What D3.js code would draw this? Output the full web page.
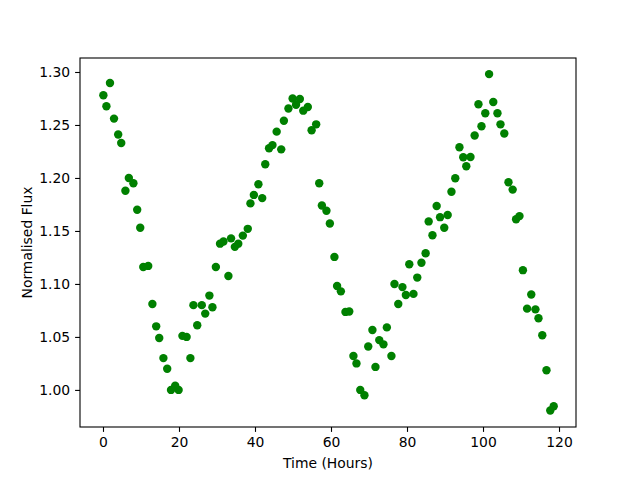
<!DOCTYPE html>
<meta charset="utf-8">
<script src="https://d3js.org/d3.v7.min.js"></script>
<style>
  body { margin: 0; background: #fff; }
  text { font-family: "DejaVu Sans", sans-serif; }
</style>
<div id="chart"></div>
<script>
var hours = [
  0.1, 0.9, 1.84, 2.9, 4.0, 4.8, 5.9, 6.8, 8.0, 9.0, 9.8, 10.6, 11.9, 13.0, 14.0, 14.8,
  15.9, 16.9, 17.9, 19.0, 19.9, 20.9, 22.0, 23.0, 23.8, 24.8, 26.0, 26.9, 28.0, 28.8,
  29.7, 30.8, 31.7, 33.0, 33.7, 34.7, 35.6, 36.8, 38.1, 38.8, 39.7, 40.9, 41.9, 42.7,
  43.7, 44.6, 45.7, 46.9, 47.6, 48.8, 49.9, 50.8, 51.8, 52.7, 53.9, 54.9, 56.1, 56.9,
  57.6, 58.8, 59.7, 60.9, 61.6, 62.6, 63.8, 64.8, 65.9, 66.7, 67.7, 68.8, 69.8, 70.9,
  71.7, 72.7, 73.8, 74.7, 75.9, 76.7, 77.7, 78.8, 79.7, 80.6, 81.7, 82.7, 83.8, 84.9,
  85.7, 86.7, 87.8, 88.7, 89.8, 90.7, 91.7, 92.7, 93.8, 94.8, 95.6, 96.7, 97.8, 98.8,
  99.6, 100.6, 101.6, 102.7, 103.8, 104.6, 105.6, 106.7, 107.8, 108.7, 109.6, 110.5,
  111.6, 112.7, 113.8, 114.6, 115.6, 116.7, 117.7, 118.6
];
var flux = [
  1.278, 1.2676, 1.2896, 1.256, 1.241, 1.233, 1.188, 1.200, 1.195, 1.170, 1.153, 1.116, 1.117, 1.081, 1.060, 1.049,
  1.030, 1.020, 1.000, 1.004, 1.000, 1.051, 1.050, 1.030, 1.080, 1.061, 1.080, 1.072, 1.089, 1.078,
  1.116, 1.138, 1.140, 1.1075, 1.143, 1.135, 1.138, 1.1456, 1.152, 1.176, 1.184, 1.194, 1.181, 1.213,
  1.228, 1.231, 1.2437, 1.227, 1.254, 1.2655, 1.275, 1.269, 1.2745, 1.2635, 1.267, 1.245, 1.2506, 1.195,
  1.174, 1.169, 1.157, 1.1255, 1.098, 1.093, 1.0736, 1.074, 1.032, 1.025, 1.000, 0.995, 1.041, 1.0566,
  1.0217, 1.047, 1.043, 1.059, 1.032, 1.100, 1.081, 1.097, 1.0896, 1.1186, 1.0906, 1.106, 1.120, 1.129,
  1.159, 1.146, 1.1736, 1.163, 1.153, 1.165, 1.187, 1.1997, 1.229, 1.2195, 1.211, 1.2198, 1.240, 1.2695,
  1.2488, 1.261, 1.298, 1.2717, 1.261, 1.2506, 1.242, 1.196, 1.189, 1.161, 1.164, 1.113,
  1.0767, 1.090, 1.076, 1.0676, 1.0516, 1.0186, 0.9805, 0.9846
];
var xTicks = [0, 20, 40, 60, 80, 100, 120];
var yTicks = [1.00, 1.05, 1.10, 1.15, 1.20, 1.25, 1.30];

var points = hours.map(function(h, i) { return { h: h, f: flux[i] }; });

var margin = { top: 58, left: 80, bottom: 53, right: 64 };
var width = 640 - margin.left - margin.right;
var height = 480 - margin.top - margin.bottom;

var x = d3.scaleLinear().domain([-6.05, 124.47]).range([0, width]);
var y = d3.scaleLinear().domain([0.965, 1.3132]).range([height, 0]);

var svg = d3.select("#chart").append("svg")
    .attr("width", 640)
    .attr("height", 480);

var g = svg.append("g")
    .attr("transform", "translate(" + margin.left + "," + margin.top + ")");

// Points
g.append("g").selectAll("circle")
    .data(points)
    .enter().append("circle")
    .attr("cx", function(d) { return x(d.h); })
    .attr("cy", function(d) { return y(d.f); })
    .attr("r", 4.2)
    .attr("fill", "green");

// Axes
var xAxis = g.append("g")
    .attr("transform", "translate(0," + height + ")")
    .call(d3.axisBottom(x).tickValues(xTicks).tickSize(4.9).tickPadding(4.9));

var yAxis = g.append("g")
    .call(d3.axisLeft(y).tickValues(yTicks).tickSize(4.9).tickPadding(4.9)
        .tickFormat(d3.format(".2f")));

[xAxis, yAxis].forEach(function(a) {
    a.select(".domain").remove();
    a.selectAll("line").attr("stroke", "black").attr("stroke-width", 1.1);
    a.selectAll("text")
        .attr("fill", "black")
        .style("font-size", "13.9px")
        .style("font-family", "'DejaVu Sans', sans-serif");
});

// Frame
g.append("rect")
    .attr("width", width)
    .attr("height", height)
    .attr("fill", "none")
    .attr("stroke", "black")
    .attr("stroke-width", 1.1);

// Labels
svg.append("text")
    .attr("x", margin.left + width / 2)
    .attr("y", 468)
    .attr("text-anchor", "middle")
    .style("font-size", "13.9px")
    .text("Time (Hours)");

svg.append("text")
    .attr("transform", "translate(32," + (margin.top + height / 2) + ") rotate(-90)")
    .attr("text-anchor", "middle")
    .style("font-size", "13.9px")
    .text("Normalised Flux");
</script>
